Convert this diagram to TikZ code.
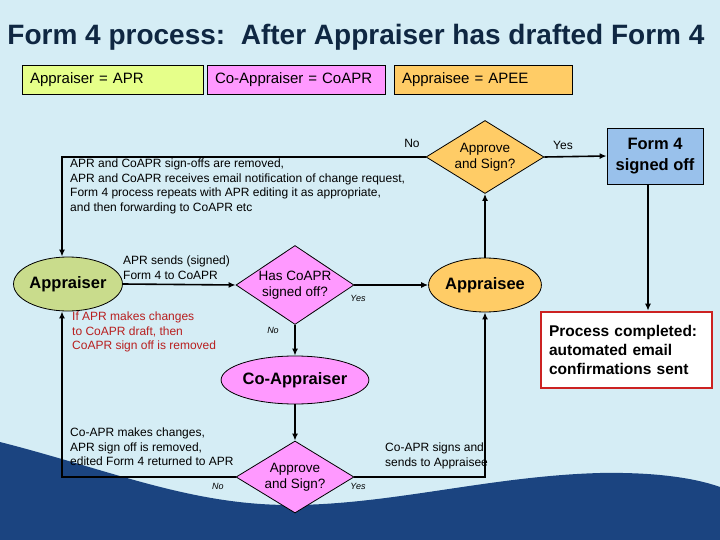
\documentclass[tikz,border=0pt]{standalone}
\usepackage{fontspec}
\setmainfont{Liberation Sans}
\usetikzlibrary{shapes.geometric, arrows.meta, positioning}
\definecolor{SlideSky}{HTML}{D5EDF5}
\definecolor{SlideNavy}{HTML}{1B4480}
\definecolor{TitleInk}{HTML}{0F2742}
\definecolor{AprGreen}{HTML}{C9DC8C}
\definecolor{KeyLime}{HTML}{E6FF8A}
\definecolor{CoPink}{HTML}{FF99FF}
\definecolor{ApeeOrange}{HTML}{FFCC66}
\definecolor{SignBlue}{HTML}{99C1EB}
\definecolor{WarnRed}{HTML}{CC2222}

\begin{document}
\begin{tikzpicture}[x=1pt, y=-1pt,
    flow/.style={-{Latex[length=7pt,width=6pt]}, line width=1.6pt},
    decision/.style={diamond, draw, line width=0.8pt, aspect=1.6, inner sep=0pt, align=center,
        minimum width=118pt, minimum height=74pt, font=\fontsize{13.5}{16}\selectfont},
    actor/.style={ellipse, draw, line width=0.8pt, inner sep=0pt, minimum width=107pt,
        minimum height=54pt, font=\bfseries\fontsize{16.5}{19}\selectfont},
    keybox/.style={draw, line width=0.8pt, minimum height=29pt, inner xsep=8pt, align=left,
        font=\fontsize{15}{17}\selectfont},
    note/.style={inner sep=0pt, align=left, font=\fontsize{12}{14.5}\selectfont},
    tag/.style={inner sep=1pt, font=\itshape\fontsize{9}{10}\selectfont}]

    % Parameters
    \def\LoopX{62}
    \def\LoopY{157}

    % 1. Slide background and wave
    \useasboundingbox (0,0) rectangle (720,540);
    \fill[SlideSky] (0,0) rectangle (720,540);
    \fill[SlideNavy] (0,442) .. controls (110,470) and (190,505) .. (290,505)
        .. controls (390,505) and (490,476) .. (600,473)
        .. controls (655,472) and (695,478) .. (720,487) -- (720,540) -- (0,540) -- cycle;

    % 2. Title and key
    \node[text=TitleInk, font=\bfseries\fontsize{28}{32}\selectfont] (title) at (356,37)
        {Form 4 process:\ \ After Appraiser has drafted Form 4};
    \node[keybox, fill=KeyLime, text width=165pt] (keyApr) at (112.5,79.5) {Appraiser = APR};
    \node[keybox, fill=CoPink, text width=162pt] (keyCo) at (296,79.5) {Co-Appraiser = CoAPR};
    \node[keybox, fill=ApeeOrange, text width=162pt] (keyApee) at (483,79.5) {Appraisee = APEE};

    % 3. Main flow
    \node[actor, fill=AprGreen] (apr) at (68,284) {Appraiser};
    \node[decision, fill=CoPink, minimum height=79pt] (hasCo) at (295,285) {Has CoAPR\\signed off?};
    \node[actor, fill=CoPink, minimum width=119pt, minimum height=48pt] (coapr) at (295,380) {Co-Appraiser};
    \node[decision, fill=CoPink, minimum height=72pt] (coSign) at (295,477) {Approve\\and Sign?};
    \node[actor, fill=ApeeOrange] (apee) at (485,285) {Appraisee};
    \node[decision, fill=ApeeOrange, minimum height=73pt] (aSign) at (485,157) {Approve\\and Sign?};
    \node[draw, line width=0.8pt, fill=SignBlue, minimum width=96pt, minimum height=56pt, align=center,
        font=\bfseries\fontsize{16.5}{21}\selectfont] (fSign) at (655,156) {Form 4\\signed off};
    \node[draw=WarnRed, line width=2.6pt, fill=white, text width=155pt, inner xsep=8pt, minimum height=76pt,
        align=left, font=\bfseries\fontsize{15.5}{19}\selectfont] (done) at (626.5,350)
        {Process completed:\\automated email\\confirmations sent};

    % Connectors
    \draw[flow] (apr.east) -- (hasCo.west);
    \draw[flow] (hasCo.east) -- (apee.west);
    \draw[flow] (hasCo.south) -- (coapr.north);
    \draw[flow] (coapr.south) -- (coSign.north);
    \draw[flow] (apee.north) -- (aSign.south);
    \draw[flow] (aSign.east) -- (fSign.west);
    \draw[flow] ([xshift=-7pt]fSign.south) -- ([xshift=-7pt]fSign.south |- done.north);
    \draw[flow] (coSign.east) -| (apee.south);
    \draw[flow] (coSign.west) -| ([xshift=-6pt]apr.south);
    \draw[flow] (aSign.west) -- (\LoopX,\LoopY) -- ([xshift=-6pt]apr.north);

    % 4. Labels
    \node[font=\fontsize{12}{14}\selectfont] (noTop) at (412,143) {No};
    \node[font=\fontsize{12}{14}\selectfont] (yesTop) at (563,145) {Yes};
    \node[tag] (yesHas) at (358,298) {Yes};
    \node[tag] (noHas) at (273,330) {No};
    \node[tag] (noSign) at (218,486) {No};
    \node[tag] (yesSign) at (358,486) {Yes};

    \node[note, anchor=north west] (loopNote) at (70,159)
        {APR and CoAPR sign-offs are removed,\\
         APR and CoAPR receives email notification of change request,\\
         Form 4 process repeats with APR editing it as appropriate,\\
         and then forwarding to CoAPR etc};
    \node[note, anchor=north west] (sendNote) at (123,256) {APR sends (signed)\\Form 4 to CoAPR};
    \node[note, anchor=north west, text=WarnRed!90!black] (redNote) at (72,312)
        {If APR makes changes\\to CoAPR draft, then\\CoAPR sign off is removed};
    \node[note, anchor=north west] (coNote) at (70,428)
        {Co-APR makes changes,\\APR sign off is removed,\\edited Form 4 returned to APR};
    \node[note, anchor=north west] (signNote) at (385,443) {Co-APR signs and\\sends to Appraisee};

\end{tikzpicture}
\end{document}
